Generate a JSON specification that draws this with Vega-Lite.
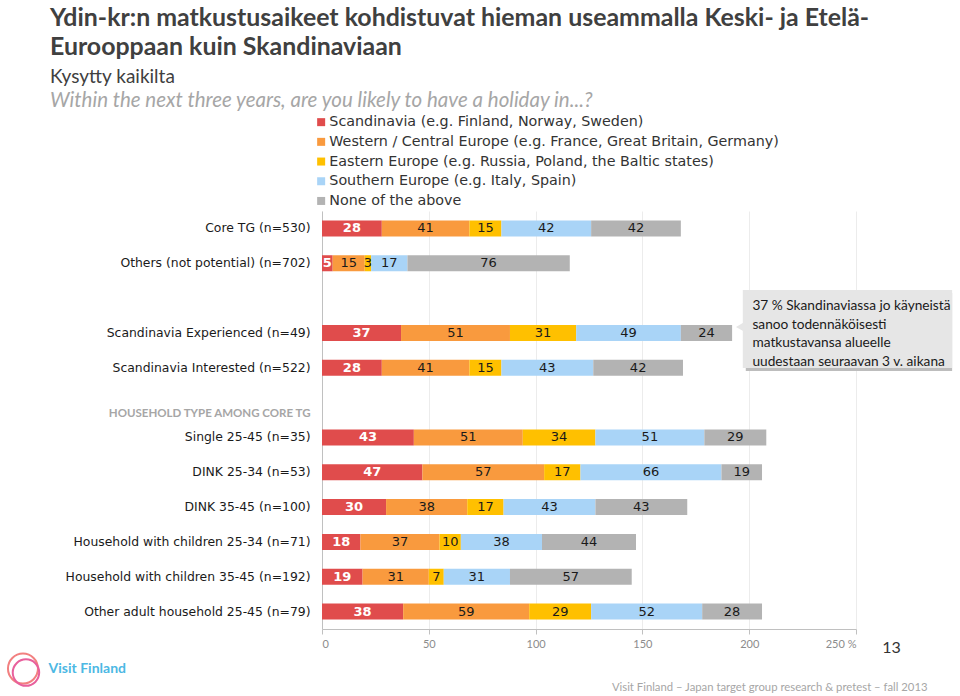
{
  "$schema": "https://vega.github.io/schema/vega-lite/v6.json",
  "width": 534,
  "height": 418,
  "autosize": {"type": "none"},
  "padding": {"left": 322, "top": 211, "right": 104, "bottom": 67},
  "background": "white",
  "config": {"view": {"stroke": null}, "font": "Lato"},
  "title": {
    "text": ["Ydin-kr:n matkustusaikeet kohdistuvat hieman useammalla Keski- ja Etelä-", "Eurooppaan kuin Skandinaviaan"],
    "subtitle": "Kysytty kaikilta",
    "anchor": "start",
    "frame": "group",
    "dx": -272,
    "font": "Lato",
    "fontSize": 24.9,
    "fontWeight": "bold",
    "color": "#404040",
    "lineHeight": 29,
    "subtitleFont": "Lato",
    "subtitleFontSize": 19,
    "subtitleColor": "#404040",
    "subtitlePadding": 8,
    "offset": 4
  },
  "layer": [
    {
      "data": {"values": [
        {"group": "Core TG (n=530)", "Scandinavia": 28, "Western": 41, "Eastern": 15, "Southern": 42, "None": 42},
        {"group": "Others (not potential) (n=702)", "Scandinavia": 5, "Western": 15, "Eastern": 3, "Southern": 17, "None": 76},
        {"group": "Scandinavia Experienced (n=49)", "Scandinavia": 37, "Western": 51, "Eastern": 31, "Southern": 49, "None": 24},
        {"group": "Scandinavia Interested (n=522)", "Scandinavia": 28, "Western": 41, "Eastern": 15, "Southern": 43, "None": 42},
        {"group": "Single 25-45 (n=35)", "Scandinavia": 43, "Western": 51, "Eastern": 34, "Southern": 51, "None": 29},
        {"group": "DINK 25-34 (n=53)", "Scandinavia": 47, "Western": 57, "Eastern": 17, "Southern": 66, "None": 19},
        {"group": "DINK 35-45 (n=100)", "Scandinavia": 30, "Western": 38, "Eastern": 17, "Southern": 43, "None": 43},
        {"group": "Household with children 25-34 (n=71)", "Scandinavia": 18, "Western": 37, "Eastern": 10, "Southern": 38, "None": 44},
        {"group": "Household with children 35-45 (n=192)", "Scandinavia": 19, "Western": 31, "Eastern": 7, "Southern": 31, "None": 57},
        {"group": "Other adult household 25-45 (n=79)", "Scandinavia": 38, "Western": 59, "Eastern": 29, "Southern": 52, "None": 28}
      ]},
      "transform": [
        {"fold": ["Scandinavia", "Western", "Eastern", "Southern", "None"], "as": ["region", "value"]},
        {"window": [{"op": "row_number", "as": "k"}], "groupby": ["group"]},
        {"stack": "value", "groupby": ["group"], "sort": [{"field": "k"}], "as": ["x0", "x1"]}
      ],
      "layer": [
        {
          "mark": {"type": "bar"},
          "encoding": {
            "y": {
              "field": "group",
              "type": "nominal",
              "scale": {
                "domain": ["Core TG (n=530)", "Others (not potential) (n=702)", "gap", "Scandinavia Experienced (n=49)", "Scandinavia Interested (n=522)", "HOUSEHOLD TYPE AMONG CORE TG", "Single 25-45 (n=35)", "DINK 25-34 (n=53)", "DINK 35-45 (n=100)", "Household with children 25-34 (n=71)", "Household with children 35-45 (n=192)", "Other adult household 25-45 (n=79)"],
                "paddingInner": 0.54,
                "paddingOuter": 0.27
              },
              "axis": {
                "title": null,
                "ticks": false,
                "domainColor": "#c0c0c0",
                "labelPadding": 12,
                "labelLimit": 400,
                "labelExpr": "datum.value == 'gap' ? '' : datum.value",
                "labelFont": {"condition": {"test": "datum.value == 'HOUSEHOLD TYPE AMONG CORE TG'", "value": "Lato"}, "value": "DejaVu Sans"},
                "labelFontSize": {"condition": {"test": "datum.value == 'HOUSEHOLD TYPE AMONG CORE TG'", "value": 11.5}, "value": 12.4},
                "labelFontWeight": {"condition": {"test": "datum.value == 'HOUSEHOLD TYPE AMONG CORE TG'", "value": "bold"}, "value": "normal"},
                "labelColor": {"condition": {"test": "datum.value == 'HOUSEHOLD TYPE AMONG CORE TG'", "value": "#a6a6a6"}, "value": "#1a1a1a"},
                "labelOffset": {"condition": {"test": "datum.value == 'HOUSEHOLD TYPE AMONG CORE TG'", "value": 11}, "value": 0}
              }
            },
            "x": {
              "field": "x0",
              "type": "quantitative",
              "scale": {"domain": [0, 250], "nice": false},
              "axis": {
                "title": "Visit Finland – Japan target group research & pretest – fall 2013",
                "values": [0, 50, 100, 150, 200, 250],
                "labelExpr": "datum.value == 250 ? '250 %' : datum.label",
                "grid": true,
                "gridColor": "#ececec",
                "domainColor": "#c0c0c0",
                "tickColor": "#c0c0c0",
                "tickSize": 5,
                "labelFont": "Lato",
                "labelFontSize": 11,
                "labelColor": "#8c8c8c",
                "labelPadding": 4,
                "titleFont": "Lato",
                "titleFontSize": 11.3,
                "titleFontWeight": "normal",
                "titleColor": "#a6a6a6",
                "titleX": 605,
                "titleY": 58,
                "titleAlign": "right",
                "titleBaseline": "middle"
              }
            },
            "x2": {"field": "x1"},
            "color": {
              "field": "region",
              "type": "nominal",
              "scale": {
                "domain": ["Scandinavia", "Western", "Eastern", "Southern", "None"],
                "range": ["#e04c4c", "#f99a3e", "#ffc000", "#a9d4f7", "#b3b3b3"]
              },
              "legend": {
                "orient": "none",
                "legendX": -272,
                "legendY": -120,
                "direction": "vertical",
                "title": "Within the next three years, are you likely to have a holiday in...?",
                "titleFont": "Lato",
                "titleFontStyle": "italic",
                "titleFontWeight": "normal",
                "titleFontSize": 20.5,
                "titleColor": "#a6a6a6",
                "titleLimit": 900,
                "titlePadding": 3.5,
                "symbolType": "square",
                "symbolSize": 64,
                "symbolStrokeWidth": 0,
                "symbolOffset": 264,
                "labelOffset": 1,
                "labelFont": "DejaVu Sans",
                "labelFontSize": 14.3,
                "labelColor": "#333333",
                "labelLimit": 800,
                "rowPadding": 4.7,
                "padding": 0,
                "labelExpr": "datum.label == 'Scandinavia' ? 'Scandinavia (e.g. Finland, Norway, Sweden)' : datum.label == 'Western' ? 'Western / Central Europe (e.g. France, Great Britain, Germany)' : datum.label == 'Eastern' ? 'Eastern Europe (e.g. Russia, Poland, the Baltic states)' : datum.label == 'Southern' ? 'Southern Europe (e.g. Italy, Spain)' : 'None of the above'"
              }
            }
          }
        },
        {
          "mark": {"type": "text", "font": "DejaVu Sans", "fontSize": 13, "fontWeight": "bold", "color": "white", "baseline": "middle"},
          "encoding": {
            "y": {"field": "group", "type": "nominal"},
            "x": {"field": "value", "type": "quantitative", "stack": "zero", "bandPosition": 0.5},
            "order": {"field": "k", "type": "quantitative"},
            "text": {"condition": {"test": "datum.region != 'Scandinavia'", "value": ""}, "field": "value", "type": "quantitative"}
          }
        },
        {
          "mark": {"type": "text", "font": "DejaVu Sans", "fontSize": 13, "color": "#1a1a1a", "baseline": "middle"},
          "encoding": {
            "y": {"field": "group", "type": "nominal"},
            "x": {"field": "value", "type": "quantitative", "stack": "zero", "bandPosition": 0.5},
            "order": {"field": "k", "type": "quantitative"},
            "text": {"condition": {"test": "datum.region == 'Scandinavia'", "value": ""}, "field": "value", "type": "quantitative"}
          }
        }
      ]
    },
    {
      "data": {"values": [{}]},
      "layer": [
        {
          "mark": {"type": "bar", "height": 78, "color": "#bdbdbd", "xOffset": 3, "yOffset": -1},
          "encoding": {"x": {"datum": 197}, "x2": {"datum": 295}, "y": {"datum": "Scandinavia Experienced (n=49)"}}
        },
        {
          "mark": {"type": "bar", "height": 78, "color": "#e6e6e6", "yOffset": -4},
          "encoding": {"x": {"datum": 197}, "x2": {"datum": 295}, "y": {"datum": "Scandinavia Experienced (n=49)"}}
        },
        {
          "mark": {"type": "point", "shape": "triangle-left", "filled": true, "color": "#e6e6e6", "opacity": 1, "size": 70, "yOffset": -6},
          "encoding": {"x": {"datum": 195.5}, "y": {"datum": "Scandinavia Experienced (n=49)"}}
        },
        {
          "mark": {"type": "text", "align": "left", "baseline": "middle", "font": "Lato", "fontSize": 13.7, "color": "#1a1a1a", "lineHeight": 18.4, "dy": -26.5, "text": ["37 % Skandinaviassa jo käyneistä", "sanoo todennäköisesti", "matkustavansa alueelle", "uudestaan seuraavan 3 v. aikana"]},
          "encoding": {"x": {"datum": 201.5}, "y": {"datum": "Scandinavia Experienced (n=49)"}}
        },
        {
          "mark": {"type": "text", "align": "center", "baseline": "middle", "font": "Lato", "fontSize": 16, "color": "#333333", "dy": 36, "text": "13"},
          "encoding": {"x": {"datum": 266.6}, "y": {"datum": "Other adult household 25-45 (n=79)"}}
        },
        {
          "mark": {"type": "text", "align": "left", "baseline": "middle", "font": "Lato", "fontSize": 14, "fontWeight": "bold", "color": "#4cb8e4", "dy": 57, "text": "Visit Finland"},
          "encoding": {"x": {"datum": -128}, "y": {"datum": "Other adult household 25-45 (n=79)"}}
        },
        {
          "mark": {"type": "point", "shape": "circle", "filled": false, "stroke": "#f28080", "strokeWidth": 2, "size": 900, "opacity": 1, "yOffset": 57},
          "encoding": {"x": {"datum": -140}, "y": {"datum": "Other adult household 25-45 (n=79)"}}
        },
        {
          "mark": {"type": "point", "shape": "circle", "filled": false, "stroke": "#e8609c", "strokeWidth": 2, "size": 700, "opacity": 1, "yOffset": 61, "xOffset": 3},
          "encoding": {"x": {"datum": -140}, "y": {"datum": "Other adult household 25-45 (n=79)"}}
        }
      ]
    }
  ]
}
